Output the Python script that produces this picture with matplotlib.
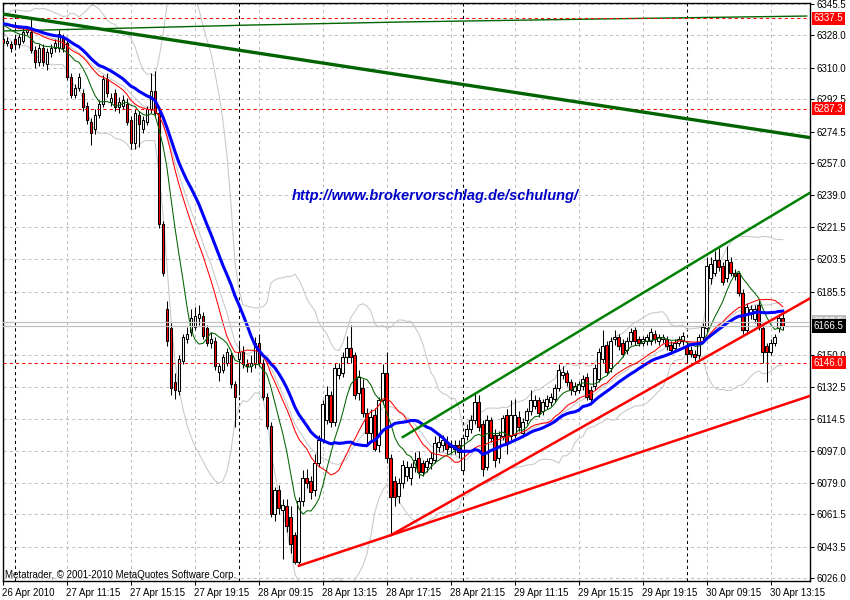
import numpy as np
import pandas as pd
import matplotlib
matplotlib.use('Agg')
import matplotlib.pyplot as plt
import matplotlib.transforms as mtransforms

# FDAX M15 bars, first bar = 26 Apr 2010 21:15
opens = [6326, 6324, 6323, 6326, 6323, 6325, 6330, 6330, 6320, 6313, 6321, 6312, 6318, 6321, 6321, 6327,
         6324, 6305, 6295, 6299, 6296, 6289, 6280, 6276, 6284, 6290, 6304, 6291, 6296, 6288, 6289, 6290,
         6281, 6268, 6284, 6276, 6280, 6287, 6297, 6285, 6223, 6176, 6165, 6135, 6130, 6147, 6159, 6163,
         6166, 6171, 6172, 6165, 6157, 6158, 6141, 6142, 6146, 6150, 6134, 6148, 6152, 6145, 6144, 6146,
         6157, 6146, 6127, 6111, 6062, 6075, 6064, 6066, 6060, 6050, 6035, 6069, 6082, 6080, 6075, 6090,
         6103, 6114, 6128, 6113, 6139, 6140, 6149, 6154, 6150, 6129, 6132, 6118, 6107, 6117, 6100, 6125,
         6140, 6093, 6080, 6072, 6079, 6083, 6082, 6088, 6093, 6090, 6088, 6090, 6092, 6099, 6100, 6102,
         6099, 6098, 6100, 6086, 6105, 6109, 6114, 6124, 6112, 6088, 6114, 6106, 6093, 6105, 6117, 6105,
         6106, 6116, 6107, 6114, 6119, 6122, 6125, 6119, 6122, 6124, 6126, 6132, 6139, 6140, 6135, 6130,
         6131, 6133, 6138, 6131, 6133, 6137, 6148, 6156, 6143, 6159, 6160, 6157, 6153, 6158, 6164, 6159,
         6157, 6158, 6158, 6162, 6158, 6159, 6159, 6156, 6154, 6157, 6158, 6155, 6153, 6151, 6150, 6160,
         6165, 6193, 6196, 6203, 6200, 6193, 6202, 6196, 6196, 6185, 6164, 6173, 6170, 6178, 6165, 6155,
         6152, 6157, 6165, 6171]
highs = [6329, 6327, 6325, 6328, 6329, 6333, 6333, 6337, 6322, 6323, 6323, 6321, 6323, 6326, 6331, 6329,
         6326, 6307, 6301, 6307, 6298, 6291, 6282, 6287, 6292, 6306, 6307, 6296, 6298, 6294, 6295, 6293,
         6283, 6287, 6286, 6283, 6289, 6307, 6308, 6287, 6225, 6180, 6168, 6140, 6150, 6162, 6166, 6176,
         6177, 6178, 6174, 6167, 6163, 6160, 6146, 6151, 6154, 6152, 6136, 6158, 6155, 6148, 6150, 6160,
         6162, 6148, 6129, 6113, 6077, 6078, 6070, 6070, 6066, 6052, 6071, 6086, 6087, 6083, 6095, 6106,
         6125, 6133, 6130, 6146, 6146, 6152, 6161, 6167, 6152, 6142, 6137, 6121, 6120, 6121, 6127, 6145,
         6152, 6095, 6083, 6082, 6092, 6091, 6090, 6096, 6097, 6092, 6093, 6096, 6105, 6106, 6106, 6105,
         6103, 6103, 6103, 6106, 6112, 6117, 6129, 6128, 6114, 6117, 6116, 6109, 6108, 6117, 6120, 6125,
         6126, 6119, 6115, 6121, 6131, 6128, 6127, 6126, 6128, 6129, 6134, 6145, 6144, 6142, 6137, 6135,
         6136, 6139, 6140, 6133, 6145, 6154, 6164, 6158, 6160, 6164, 6162, 6159, 6160, 6165, 6166, 6161,
         6161, 6162, 6165, 6164, 6162, 6162, 6161, 6158, 6159, 6161, 6163, 6157, 6155, 6153, 6162, 6168,
         6205, 6205, 6208, 6210, 6202, 6211, 6205, 6198, 6197, 6187, 6179, 6178, 6178, 6181, 6167, 6157,
         6159, 6162, 6173, 6174]
lows = [6322, 6322, 6319, 6321, 6321, 6324, 6328, 6318, 6310, 6311, 6311, 6309, 6316, 6319, 6319, 6319,
        6303, 6293, 6293, 6297, 6286, 6279, 6267, 6273, 6282, 6288, 6294, 6289, 6286, 6285, 6287, 6278,
        6265, 6265, 6266, 6274, 6278, 6285, 6283, 6221, 6194, 6155, 6128, 6126, 6128, 6145, 6157, 6161,
        6164, 6167, 6159, 6155, 6154, 6142, 6136, 6140, 6144, 6132, 6110, 6128, 6143, 6141, 6141, 6143,
        6144, 6125, 6109, 6060, 6058, 6062, 6037, 6052, 6040, 6034, 6033, 6066, 6076, 6070, 6072, 6088,
        6101, 6112, 6110, 6111, 6137, 6138, 6146, 6146, 6126, 6125, 6116, 6100, 6102, 6097, 6096, 6123,
        6090, 6050, 6066, 6068, 6076, 6080, 6078, 6085, 6082, 6083, 6085, 6087, 6090, 6096, 6097, 6095,
        6095, 6095, 6093, 6084, 6103, 6107, 6112, 6108, 6083, 6086, 6102, 6088, 6090, 6103, 6095, 6103,
        6104, 6108, 6105, 6112, 6117, 6120, 6116, 6117, 6120, 6122, 6124, 6130, 6137, 6133, 6128, 6128,
        6129, 6131, 6125, 6124, 6131, 6135, 6146, 6139, 6141, 6156, 6153, 6149, 6151, 6156, 6156, 6155,
        6155, 6156, 6156, 6157, 6156, 6157, 6153, 6151, 6152, 6155, 6156, 6146, 6149, 6147, 6148, 6158,
        6163, 6190, 6194, 6197, 6189, 6191, 6194, 6192, 6183, 6162, 6162, 6170, 6168, 6164, 6146, 6135,
        6150, 6155, 6163, 6164]
closes = [6324, 6325, 6321, 6323, 6327, 6330, 6331, 6320, 6313, 6321, 6313, 6319, 6321, 6324, 6329, 6321,
          6305, 6295, 6299, 6305, 6288, 6281, 6274, 6284, 6290, 6304, 6296, 6293, 6288, 6291, 6292, 6280,
          6268, 6285, 6279, 6281, 6287, 6297, 6285, 6223, 6196, 6158, 6132, 6131, 6148, 6160, 6162, 6171,
          6172, 6173, 6161, 6157, 6159, 6144, 6144, 6149, 6152, 6134, 6127, 6152, 6145, 6144, 6146, 6157,
          6146, 6127, 6111, 6062, 6075, 6065, 6067, 6055, 6045, 6035, 6069, 6082, 6079, 6074, 6090, 6103,
          6123, 6128, 6113, 6143, 6143, 6149, 6154, 6149, 6128, 6138, 6118, 6107, 6116, 6098, 6125, 6140,
          6093, 6071, 6071, 6079, 6089, 6088, 6088, 6092, 6085, 6085, 6091, 6093, 6101, 6102, 6103, 6098,
          6100, 6100, 6096, 6104, 6109, 6114, 6124, 6110, 6087, 6114, 6104, 6092, 6106, 6115, 6102, 6117,
          6117, 6110, 6113, 6119, 6125, 6125, 6118, 6124, 6126, 6127, 6132, 6142, 6141, 6135, 6131, 6133,
          6134, 6137, 6127, 6126, 6143, 6152, 6155, 6141, 6158, 6160, 6155, 6151, 6158, 6163, 6158, 6157,
          6159, 6160, 6163, 6159, 6160, 6160, 6155, 6153, 6157, 6159, 6161, 6151, 6151, 6149, 6160, 6166,
          6200, 6201, 6203, 6199, 6191, 6203, 6196, 6194, 6185, 6164, 6177, 6176, 6176, 6166, 6152, 6152,
          6157, 6160, 6171, 6166.5]

time_labels = ['26 Apr 2010', '27 Apr 11:15', '27 Apr 15:15', '27 Apr 19:15', '28 Apr 09:15',
               '28 Apr 13:15', '28 Apr 17:15', '28 Apr 21:15', '29 Apr 11:15', '29 Apr 15:15',
               '29 Apr 19:15', '30 Apr 09:15', '30 Apr 13:15']
label_bars = [0, 16, 32, 48, 64, 80, 96, 112, 128, 144, 160, 176, 192]
day_starts = [3, 59, 115, 171]   # 27, 28, 29, 30 Apr 08:00

price_ticks = [6345.5, 6328.0, 6310.0, 6292.5, 6274.5, 6257.0, 6239.0, 6221.5, 6203.5,
               6185.5, 6150.0, 6132.5, 6114.5, 6097.0, 6079.0, 6061.5, 6043.5, 6026.0]
levels = [6337.5, 6287.3, 6146.0]
bid = 6166.5
ask = 6168.5

# trend lines: (bar, price) anchors, drawn as rays to the right
trend_down = [(0, 6339.9), (195, 6273.5)]
channel_top = [(100, 6104.6), (178, 6208.7)]
support_steep = [(97, 6050.0), (171, 6143.0)]
support_flat = [(74, 6033.0), (97, 6050.0)]

# slow moving average near the top
slow_ma_bars = [0, 33, 62, 100, 150, 201]
slow_ma = [6330.5, 6332.2, 6333.8, 6335.5, 6337.2, 6338.8]
prior_close = 6335.0   # estimated level before the first visible bar (indicator warm-up)

n_pad = 40
ext = pd.Series([prior_close] * n_pad + closes, dtype=float)
x = np.arange(len(closes))


def sma(period):
    return ext.rolling(period).mean().iloc[n_pad:].values


bb_mid = ext.rolling(20).mean().iloc[n_pad:].values
bb_std = ext.rolling(20).std(ddof=0).iloc[n_pad:].values

W, H = 850, 600
fig = plt.figure(figsize=(W / 100, H / 100), dpi=100, facecolor='white')
ax = fig.add_axes([3 / W, (H - 581) / H, 807 / W, 578 / H])
ax.set_facecolor('white')

xmin = 0.075
xmax = xmin + 807 / 4
ax.set_xlim(xmin, xmax)
ax.set_ylim(6024.5, 6346.06)

# grid
for p in price_ticks:
    ax.axhline(p, color='#c0c0c0', lw=0.75, ls=(0, (3, 3)), zorder=0)
for b in label_bars:
    ax.axvline(b, color='#c0c0c0', lw=0.75, ls=(0, (3, 3)), zorder=0)
for b in day_starts:
    ax.axvline(b, color='black', lw=0.75, ls=(0, (3, 3)), zorder=1)

# bollinger bands
for line in (bb_mid, bb_mid + 2 * bb_std, bb_mid - 2 * bb_std):
    ax.plot(x, line, color='#c8c8c8', lw=0.75, zorder=1)

# candles
o = np.array(opens, dtype=float)
cl = np.array(closes, dtype=float)
ax.vlines(x, lows, highs, color='black', lw=0.75, zorder=2)
body_low = np.minimum(o, cl)
body_h = np.maximum(np.abs(cl - o), 0.35)
colors = np.where(cl >= o, 'white', 'red')
ax.bar(x, body_h, bottom=body_low, width=0.7, color=colors, edgecolor='black',
       linewidth=0.75, zorder=3)

# moving averages
ax.plot(slow_ma_bars, slow_ma, color='#006400', lw=1.0, zorder=4)
ax.plot(x, sma(9), color='#006400', lw=0.75, zorder=4)
ax.plot(x, sma(18), color='red', lw=0.75, zorder=4)
ax.plot(x, sma(25), color='blue', lw=2.2, zorder=4)

# horizontal levels and bid/ask
for p in levels:
    ax.axhline(p, color='red', lw=0.75, ls=(0, (3, 3)), zorder=5)
ax.axhline(ask, color='#c0c0c0', lw=0.9, zorder=5)
ax.axhline(bid, color='#c0c0c0', lw=0.9, zorder=5)


def ray(p0, p1, x_end):
    (x0, y0), (x1, y1) = p0, p1
    k = (y1 - y0) / (x1 - x0)
    return [x0, x_end], [y0, y0 + k * (x_end - x0)]


lx, ly = ray(*trend_down, xmax)
ax.plot(lx, ly, color='#006400', lw=2.4, zorder=6)
lx, ly = ray(*channel_top, xmax)
ax.plot(lx, ly, color='#008000', lw=1.8, zorder=6)
lx, ly = ray(*support_steep, xmax)
ax.plot(lx, ly, color='red', lw=1.8, zorder=6)
lx, ly = ray(*support_flat, xmax)
ax.plot(lx, ly, color='red', lw=1.8, zorder=6)

# axes look
for s in ax.spines.values():
    s.set_color('black')
    s.set_linewidth(1.0)
ax.yaxis.tick_right()
ax.set_yticks(price_ticks)
ax.set_yticklabels(['%.1f' % p for p in price_ticks])
ax.set_xticks(label_bars)
ax.set_xticklabels(time_labels, ha='left')
ax.tick_params(axis='both', direction='out', length=3, width=0.75, labelsize=7,
               colors='black')
ax.tick_params(axis='y', pad=2)
ax.tick_params(axis='x', pad=2)
for t in ax.get_xticklabels() + ax.get_yticklabels():
    t.set_fontfamily('Liberation Sans')
offs = mtransforms.ScaledTranslation(-1 / 100, 0, fig.dpi_scale_trans)
for t in ax.get_xticklabels():
    t.set_transform(t.get_transform() + offs)

# price labels on the right axis
yt = mtransforms.blended_transform_factory(ax.transAxes, ax.transData)
lab_x = 1 + 4 / 807


def price_box(p, fc, tc, z):
    ax.text(lab_x, p, '%.1f' % p, transform=yt, ha='left', va='center', fontsize=7,
            family='Liberation Sans', color=tc, zorder=z, clip_on=False,
            bbox=dict(boxstyle='square,pad=0.18', fc=fc, ec='none'))


for p in levels:
    price_box(p, 'red', 'white', 10)
price_box(ask, '#c0c0c0', 'white', 10)
price_box(bid, 'black', 'white', 11)

fig.text(435 / W, 1 - 196 / H, 'http://www.brokervorschlag.de/schulung/', ha='center',
         va='center', color='#0000c8', fontsize=10.5, fontweight='bold', fontstyle='italic',
         family='Liberation Sans')
fig.text(5 / W, 1 - 575 / H, 'Metatrader, \u00a9 2001-2010 MetaQuotes Software Corp.',
         ha='left', va='center', fontsize=7, family='Liberation Sans', color='black')

fig.savefig('out.png', dpi=100, facecolor='white')
